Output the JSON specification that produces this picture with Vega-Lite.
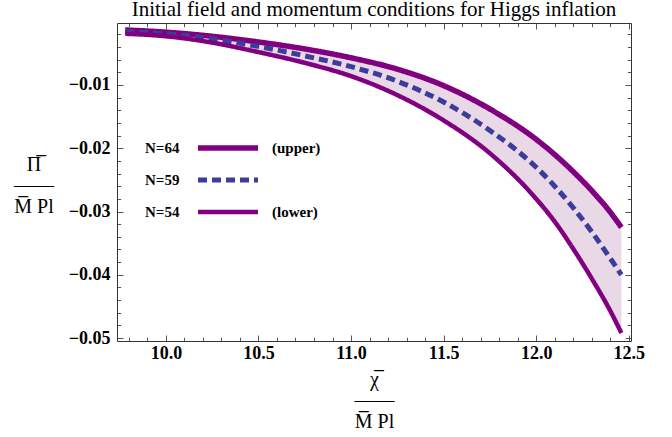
{
  "$schema": "https://vega.github.io/schema/vega-lite/v6.json",
  "width": 514,
  "height": 318,
  "autosize": {"type": "none"},
  "padding": {"left": 117, "top": 23, "right": 41, "bottom": 96},
  "title": {"text": "Initial field and momentum conditions for Higgs inflation", "font": "Liberation Serif", "fontSize": 21, "fontWeight": "normal", "color": "#000", "anchor": "middle", "offset": -1},
  "data": {"values": [
    {"x": 9.78, "y": -0.0013, "curve": "upper", "N": 64},
    {"x": 10.0, "y": -0.00165, "curve": "upper", "N": 64},
    {"x": 10.25, "y": -0.0023, "curve": "upper", "N": 64},
    {"x": 10.5, "y": -0.0032, "curve": "upper", "N": 64},
    {"x": 10.75, "y": -0.0043, "curve": "upper", "N": 64},
    {"x": 11.0, "y": -0.0057, "curve": "upper", "N": 64},
    {"x": 11.25, "y": -0.0075, "curve": "upper", "N": 64},
    {"x": 11.5, "y": -0.0101, "curve": "upper", "N": 64},
    {"x": 11.75, "y": -0.0138, "curve": "upper", "N": 64},
    {"x": 12.0, "y": -0.0186, "curve": "upper", "N": 64},
    {"x": 12.1, "y": -0.0210, "curve": "upper", "N": 64},
    {"x": 12.2, "y": -0.0237, "curve": "upper", "N": 64},
    {"x": 12.3, "y": -0.0267, "curve": "upper", "N": 64},
    {"x": 12.4, "y": -0.0301, "curve": "upper", "N": 64},
    {"x": 12.46, "y": -0.0325, "curve": "upper", "N": 64},
    {"x": 9.78, "y": -0.00155, "curve": "mid", "N": 59},
    {"x": 10.0, "y": -0.0019, "curve": "mid", "N": 59},
    {"x": 10.25, "y": -0.0027, "curve": "mid", "N": 59},
    {"x": 10.5, "y": -0.0039, "curve": "mid", "N": 59},
    {"x": 10.75, "y": -0.0054, "curve": "mid", "N": 59},
    {"x": 11.0, "y": -0.0071, "curve": "mid", "N": 59},
    {"x": 11.25, "y": -0.0094, "curve": "mid", "N": 59},
    {"x": 11.5, "y": -0.0127, "curve": "mid", "N": 59},
    {"x": 11.75, "y": -0.0172, "curve": "mid", "N": 59},
    {"x": 12.0, "y": -0.0230, "curve": "mid", "N": 59},
    {"x": 12.1, "y": -0.0260, "curve": "mid", "N": 59},
    {"x": 12.2, "y": -0.0294, "curve": "mid", "N": 59},
    {"x": 12.3, "y": -0.0332, "curve": "mid", "N": 59},
    {"x": 12.4, "y": -0.0374, "curve": "mid", "N": 59},
    {"x": 12.46, "y": -0.0400, "curve": "mid", "N": 59},
    {"x": 9.78, "y": -0.0019, "curve": "lower", "N": 54},
    {"x": 10.0, "y": -0.0023, "curve": "lower", "N": 54},
    {"x": 10.25, "y": -0.0033, "curve": "lower", "N": 54},
    {"x": 10.5, "y": -0.0048, "curve": "lower", "N": 54},
    {"x": 10.75, "y": -0.0065, "curve": "lower", "N": 54},
    {"x": 11.0, "y": -0.0086, "curve": "lower", "N": 54},
    {"x": 11.25, "y": -0.0116, "curve": "lower", "N": 54},
    {"x": 11.5, "y": -0.0156, "curve": "lower", "N": 54},
    {"x": 11.75, "y": -0.0208, "curve": "lower", "N": 54},
    {"x": 12.0, "y": -0.0280, "curve": "lower", "N": 54},
    {"x": 12.1, "y": -0.0316, "curve": "lower", "N": 54},
    {"x": 12.2, "y": -0.0359, "curve": "lower", "N": 54},
    {"x": 12.3, "y": -0.0406, "curve": "lower", "N": 54},
    {"x": 12.4, "y": -0.0457, "curve": "lower", "N": 54},
    {"x": 12.46, "y": -0.0492, "curve": "lower", "N": 54}
  ]},
  "layer": [
    {
      "transform": [{"pivot": "curve", "value": "y", "groupby": ["x"]}],
      "mark": {"type": "area", "color": "#e9d8e6", "interpolate": "monotone"},
      "encoding": {
        "x": {
          "field": "x", "type": "quantitative",
          "scale": {"domain": [9.736, 12.512], "nice": false, "zero": false},
          "axis": {
            "orient": "bottom",
            "values": [9.8, 9.9, 10, 10.1, 10.2, 10.3, 10.4, 10.5, 10.6, 10.7, 10.8, 10.9, 11, 11.1, 11.2, 11.3, 11.4, 11.5, 11.6, 11.7, 11.8, 11.9, 12, 12.1, 12.2, 12.3, 12.4, 12.5],
            "format": ".1f",
            "labelExpr": "abs(datum.value*2 - round(datum.value*2)) < 0.000001 ? datum.label : ''",
            "tickSize": {"condition": {"test": "abs(datum.value*2 - round(datum.value*2)) < 0.000001", "value": -6}, "value": -3.7},
            "tickColor": "#555", "tickWidth": 1, "domainColor": "#333", "grid": false,
            "labelPadding": 9, "labelFont": "Liberation Serif", "labelFontSize": 18, "labelFontWeight": "bold", "labelColor": "#000",
            "labelFlush": false, "labelOverlap": false,
            "title": ["χ̅", "——", "M̅ Pl"],
            "titleFont": "Liberation Serif", "titleFontSize": 20, "titleFontWeight": "normal", "titleColor": "#000",
            "titleAngle": 0, "titleX": 257, "titleY": 38, "titleAlign": "center", "titleBaseline": "middle", "titleLineHeight": 21
          }
        },
        "y": {
          "field": "lower", "type": "quantitative",
          "scale": {"domain": [-0.05047, -0.0002], "nice": false, "zero": false},
          "axis": {
            "orient": "left",
            "values": [-0.05, -0.048, -0.046, -0.044, -0.042, -0.04, -0.038, -0.036, -0.034, -0.032, -0.03, -0.028, -0.026, -0.024, -0.022, -0.02, -0.018, -0.016, -0.014, -0.012, -0.01, -0.008, -0.006, -0.004, -0.002],
            "format": ".2f",
            "labelExpr": "abs(datum.value*100 - round(datum.value*100)) < 0.000001 ? datum.label : ''",
            "tickSize": {"condition": {"test": "abs(datum.value*100 - round(datum.value*100)) < 0.000001", "value": -6}, "value": -3.7},
            "tickColor": "#555", "tickWidth": 1, "domainColor": "#333", "grid": false,
            "labelPadding": 13, "labelFont": "Liberation Serif", "labelFontSize": 18, "labelFontWeight": "bold", "labelColor": "#000",
            "labelOverlap": false,
            "title": ["Π̅", "——", "M̅ Pl"],
            "titleFont": "Liberation Serif", "titleFontSize": 20, "titleFontWeight": "normal", "titleColor": "#000",
            "titleAngle": 0, "titleX": -83.5, "titleY": 141, "titleAlign": "center", "titleBaseline": "middle", "titleLineHeight": 21
          }
        },
        "y2": {"field": "upper"}
      }
    },
    {
      "mark": {"type": "line", "interpolate": "monotone"},
      "encoding": {
        "x": {
          "field": "x", "type": "quantitative",
          "axis": {
            "orient": "top",
            "values": [9.8, 9.9, 10, 10.1, 10.2, 10.3, 10.4, 10.5, 10.6, 10.7, 10.8, 10.9, 11, 11.1, 11.2, 11.3, 11.4, 11.5, 11.6, 11.7, 11.8, 11.9, 12, 12.1, 12.2, 12.3, 12.4, 12.5],
            "labels": false,
            "tickSize": {"condition": {"test": "abs(datum.value*2 - round(datum.value*2)) < 0.000001", "value": -6}, "value": -3.7},
            "tickColor": "#555", "tickWidth": 1, "domainColor": "#333", "grid": false, "title": null
          }
        },
        "y": {
          "field": "y", "type": "quantitative",
          "axis": {
            "orient": "right",
            "values": [-0.05, -0.048, -0.046, -0.044, -0.042, -0.04, -0.038, -0.036, -0.034, -0.032, -0.03, -0.028, -0.026, -0.024, -0.022, -0.02, -0.018, -0.016, -0.014, -0.012, -0.01, -0.008, -0.006, -0.004, -0.002],
            "labels": false,
            "tickSize": {"condition": {"test": "abs(datum.value*100 - round(datum.value*100)) < 0.000001", "value": -6}, "value": -3.7},
            "tickColor": "#555", "tickWidth": 1, "domainColor": "#333", "grid": false, "title": null
          }
        },
        "color": {
          "field": "curve", "type": "nominal",
          "scale": {"domain": ["upper", "mid", "lower"], "range": ["#800080", "#3c3c9b", "#800080"]},
          "legend": {
            "orient": "none", "legendX": 78, "legendY": 109, "title": null,
            "symbolType": "stroke", "symbolSize": 3600, "clipHeight": 32, "rowPadding": 0, "padding": 0,
            "labelOffset": 11, "labelFont": "Liberation Serif", "labelFontSize": 15, "labelFontWeight": "bold", "labelColor": "#000",
            "labelExpr": "datum.label == 'mid' ? '' : '(' + datum.label + ')'"
          }
        },
        "strokeDash": {
          "field": "curve", "type": "nominal",
          "scale": {"domain": ["upper", "mid", "lower"], "range": [[1, 0], [9, 5], [1, 0]]}
        },
        "strokeWidth": {
          "field": "curve", "type": "nominal",
          "scale": {"domain": ["upper", "mid", "lower"], "range": [5.5, 4.5, 5.5]}
        },
        "opacity": {
          "field": "N", "type": "ordinal",
          "scale": {"domain": [64, 59, 54], "range": [1, 1, 1]},
          "legend": {
            "orient": "none", "legendX": 13, "legendY": 109, "title": null,
            "symbolSize": 0, "symbolStrokeWidth": 0, "clipHeight": 32, "rowPadding": 0, "padding": 0,
            "labelOffset": 0, "labelFont": "Liberation Serif", "labelFontSize": 15, "labelFontWeight": "bold", "labelColor": "#000",
            "labelExpr": "'N=' + datum.label"
          }
        }
      }
    }
  ],
  "resolve": {"axis": {"x": "independent", "y": "independent"}},
  "config": {"view": {"stroke": null}}
}
